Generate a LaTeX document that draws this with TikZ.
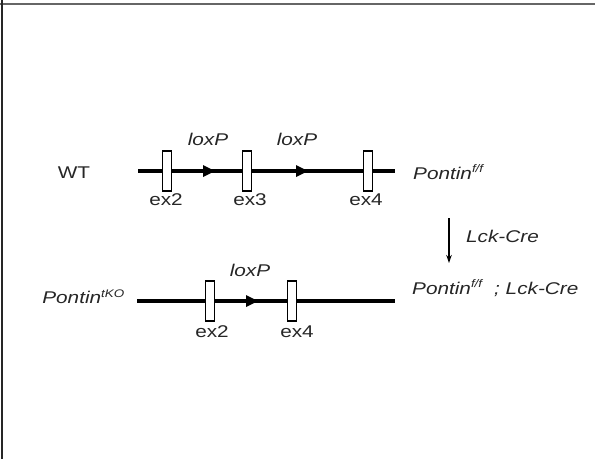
\documentclass[tikz,border=0pt]{standalone}
\usepackage{fontspec}
\setmainfont{Liberation Sans}[FakeStretch=1.22]
\usetikzlibrary{arrows.meta}
\definecolor{ink}{gray}{0.15}
\tikzset{
  gene/.style={line width=3.4pt, black},
  exon/.style={draw=black, line width=1.4pt, fill=white, minimum width=9pt, minimum height=40pt, inner sep=0pt},
  lab/.style={text=ink, font=\fontsize{17}{19}\selectfont, inner sep=0pt},
  ilab/.style={lab, font=\fontsize{17}{19}\selectfont\itshape},
  loxtip/.style={fill=black},
}
\newcommand{\sups}[1]{\textsuperscript{\fontsize{11}{11}\selectfont #1}}
\newcommand{\loxsite}[1]{\fill[loxtip] ([xshift=-6pt,yshift=6pt]#1) -- ([xshift=6pt]#1) -- ([xshift=-6pt,yshift=-6pt]#1) -- cycle;}
\begin{document}
\begin{tikzpicture}[x=1pt, y=-1pt]
  \useasboundingbox (0,0) rectangle (595,459);
  % frame edges
  \draw[gray!80!black, line width=1.6pt] (0,4) -- (595,4);
  \draw[black!85, line width=2pt] (2,0) -- (2,459);

  % floxed allele
  \coordinate (a1) at (138,171);
  \coordinate (a2) at (395,171);
  \draw[gene] (a1) -- (a2);
  \coordinate (lp1) at (209,171);
  \coordinate (lp2) at (302,171);
  \loxsite{lp1}
  \loxsite{lp2}
  \node[exon] (e2a) at (167,171) {};
  \node[exon] (e3a) at (247,171) {};
  \node[exon] (e4a) at (368,171) {};
  \node[lab] (wt) at (74,173) {WT};
  \node[ilab] (lx1) at (208,139) {loxP};
  \node[ilab] (lx2) at (297,139) {loxP};
  \node[lab] (t2a) at (166,200) {ex2};
  \node[lab] (t3a) at (250,200) {ex3};
  \node[lab] (t4a) at (366,200) {ex4};
  \node[ilab, anchor=west] (ff) at (413,172) {Pontin\sups{f/f}};

  % cross
  \coordinate (c1) at (449,218);
  \coordinate (c2) at (449,263);
  \draw[black, line width=1.2pt, -{Stealth[length=8pt,width=5.5pt]}] (c1) -- (c2);
  \node[ilab, anchor=west] (cre) at (466,236) {Lck-Cre};
  \node[ilab, anchor=west] (ffcre) at (412,288) {Pontin\sups{f/f}\ \ ; Lck-Cre};

  % deleted allele
  \coordinate (b1) at (137,301);
  \coordinate (b2) at (395,301);
  \draw[gene] (b1) -- (b2);
  \coordinate (lp3) at (252,301);
  \loxsite{lp3}
  \node[exon] (e2b) at (210,301) {};
  \node[exon] (e4b) at (292,301) {};
  \node[ilab] (lx3) at (250,270) {loxP};
  \node[lab] (t2b) at (212,332) {ex2};
  \node[lab] (t4b) at (297,332) {ex4};
  \node[ilab, anchor=east] (tko) at (125,297) {Pontin\sups{tKO}};
\end{tikzpicture}
\end{document}
